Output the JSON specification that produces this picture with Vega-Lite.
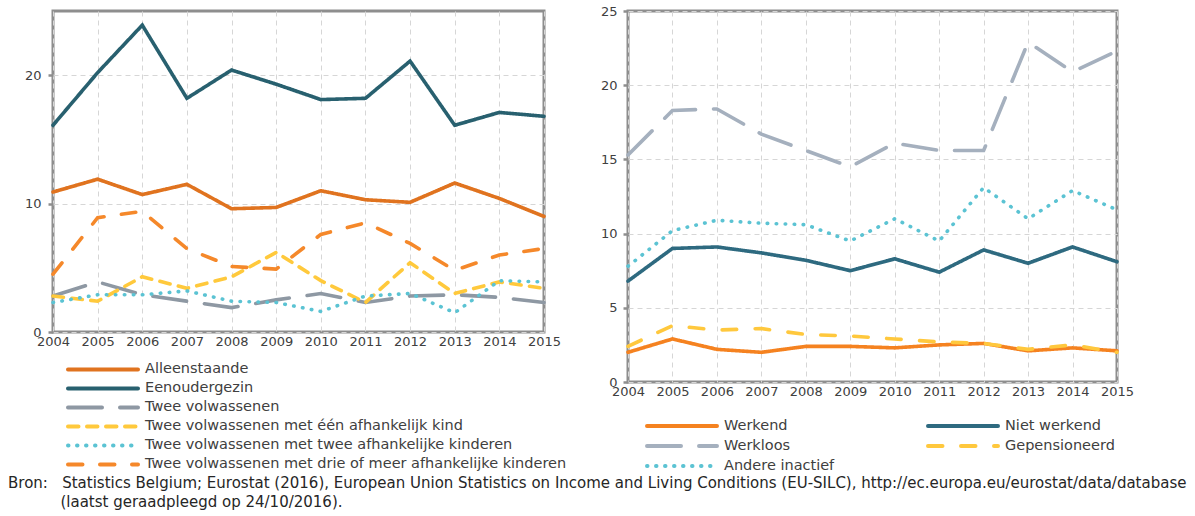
{
  "$schema": "https://vega.github.io/schema/vega-lite/v6.json",
  "background": "white",
  "padding": {"left": 8, "top": 3, "right": 0, "bottom": 0},
  "bounds": "flush",
  "spacing": 84,
  "datasets": {
    "links": [
      {"jaar": 2004, "reeks": "Alleenstaande", "waarde": 10.9},
      {"jaar": 2005, "reeks": "Alleenstaande", "waarde": 11.9},
      {"jaar": 2006, "reeks": "Alleenstaande", "waarde": 10.7},
      {"jaar": 2007, "reeks": "Alleenstaande", "waarde": 11.5},
      {"jaar": 2008, "reeks": "Alleenstaande", "waarde": 9.6},
      {"jaar": 2009, "reeks": "Alleenstaande", "waarde": 9.7},
      {"jaar": 2010, "reeks": "Alleenstaande", "waarde": 11.0},
      {"jaar": 2011, "reeks": "Alleenstaande", "waarde": 10.3},
      {"jaar": 2012, "reeks": "Alleenstaande", "waarde": 10.1},
      {"jaar": 2013, "reeks": "Alleenstaande", "waarde": 11.6},
      {"jaar": 2014, "reeks": "Alleenstaande", "waarde": 10.4},
      {"jaar": 2015, "reeks": "Alleenstaande", "waarde": 9.0},
      {"jaar": 2004, "reeks": "Eenoudergezin", "waarde": 16.1},
      {"jaar": 2005, "reeks": "Eenoudergezin", "waarde": 20.2},
      {"jaar": 2006, "reeks": "Eenoudergezin", "waarde": 23.9},
      {"jaar": 2007, "reeks": "Eenoudergezin", "waarde": 18.2},
      {"jaar": 2008, "reeks": "Eenoudergezin", "waarde": 20.4},
      {"jaar": 2009, "reeks": "Eenoudergezin", "waarde": 19.3},
      {"jaar": 2010, "reeks": "Eenoudergezin", "waarde": 18.1},
      {"jaar": 2011, "reeks": "Eenoudergezin", "waarde": 18.2},
      {"jaar": 2012, "reeks": "Eenoudergezin", "waarde": 21.1},
      {"jaar": 2013, "reeks": "Eenoudergezin", "waarde": 16.1},
      {"jaar": 2014, "reeks": "Eenoudergezin", "waarde": 17.1},
      {"jaar": 2015, "reeks": "Eenoudergezin", "waarde": 16.8},
      {"jaar": 2004, "reeks": "Twee volwassenen", "waarde": 2.8},
      {"jaar": 2005, "reeks": "Twee volwassenen", "waarde": 3.9},
      {"jaar": 2006, "reeks": "Twee volwassenen", "waarde": 2.9},
      {"jaar": 2007, "reeks": "Twee volwassenen", "waarde": 2.4},
      {"jaar": 2008, "reeks": "Twee volwassenen", "waarde": 1.9},
      {"jaar": 2009, "reeks": "Twee volwassenen", "waarde": 2.5},
      {"jaar": 2010, "reeks": "Twee volwassenen", "waarde": 3.0},
      {"jaar": 2011, "reeks": "Twee volwassenen", "waarde": 2.3},
      {"jaar": 2012, "reeks": "Twee volwassenen", "waarde": 2.8},
      {"jaar": 2013, "reeks": "Twee volwassenen", "waarde": 2.9},
      {"jaar": 2014, "reeks": "Twee volwassenen", "waarde": 2.7},
      {"jaar": 2015, "reeks": "Twee volwassenen", "waarde": 2.3},
      {"jaar": 2004, "reeks": "Twee volwassenen met één afhankelijk kind", "waarde": 2.8},
      {"jaar": 2005, "reeks": "Twee volwassenen met één afhankelijk kind", "waarde": 2.4},
      {"jaar": 2006, "reeks": "Twee volwassenen met één afhankelijk kind", "waarde": 4.3},
      {"jaar": 2007, "reeks": "Twee volwassenen met één afhankelijk kind", "waarde": 3.4},
      {"jaar": 2008, "reeks": "Twee volwassenen met één afhankelijk kind", "waarde": 4.3},
      {"jaar": 2009, "reeks": "Twee volwassenen met één afhankelijk kind", "waarde": 6.2},
      {"jaar": 2010, "reeks": "Twee volwassenen met één afhankelijk kind", "waarde": 4.0},
      {"jaar": 2011, "reeks": "Twee volwassenen met één afhankelijk kind", "waarde": 2.3},
      {"jaar": 2012, "reeks": "Twee volwassenen met één afhankelijk kind", "waarde": 5.4},
      {"jaar": 2013, "reeks": "Twee volwassenen met één afhankelijk kind", "waarde": 3.0},
      {"jaar": 2014, "reeks": "Twee volwassenen met één afhankelijk kind", "waarde": 3.9},
      {"jaar": 2015, "reeks": "Twee volwassenen met één afhankelijk kind", "waarde": 3.4},
      {"jaar": 2004, "reeks": "Twee volwassenen met twee afhankelijke kinderen", "waarde": 2.3},
      {"jaar": 2005, "reeks": "Twee volwassenen met twee afhankelijke kinderen", "waarde": 2.9},
      {"jaar": 2006, "reeks": "Twee volwassenen met twee afhankelijke kinderen", "waarde": 2.9},
      {"jaar": 2007, "reeks": "Twee volwassenen met twee afhankelijke kinderen", "waarde": 3.2},
      {"jaar": 2008, "reeks": "Twee volwassenen met twee afhankelijke kinderen", "waarde": 2.4},
      {"jaar": 2009, "reeks": "Twee volwassenen met twee afhankelijke kinderen", "waarde": 2.3},
      {"jaar": 2010, "reeks": "Twee volwassenen met twee afhankelijke kinderen", "waarde": 1.6},
      {"jaar": 2011, "reeks": "Twee volwassenen met twee afhankelijke kinderen", "waarde": 2.8},
      {"jaar": 2012, "reeks": "Twee volwassenen met twee afhankelijke kinderen", "waarde": 3.0},
      {"jaar": 2013, "reeks": "Twee volwassenen met twee afhankelijke kinderen", "waarde": 1.5},
      {"jaar": 2014, "reeks": "Twee volwassenen met twee afhankelijke kinderen", "waarde": 4.0},
      {"jaar": 2015, "reeks": "Twee volwassenen met twee afhankelijke kinderen", "waarde": 3.9},
      {"jaar": 2004, "reeks": "Twee volwassenen met drie of meer afhankelijke kinderen", "waarde": 4.5},
      {"jaar": 2005, "reeks": "Twee volwassenen met drie of meer afhankelijke kinderen", "waarde": 8.9},
      {"jaar": 2006, "reeks": "Twee volwassenen met drie of meer afhankelijke kinderen", "waarde": 9.4},
      {"jaar": 2007, "reeks": "Twee volwassenen met drie of meer afhankelijke kinderen", "waarde": 6.5},
      {"jaar": 2008, "reeks": "Twee volwassenen met drie of meer afhankelijke kinderen", "waarde": 5.1},
      {"jaar": 2009, "reeks": "Twee volwassenen met drie of meer afhankelijke kinderen", "waarde": 4.9},
      {"jaar": 2010, "reeks": "Twee volwassenen met drie of meer afhankelijke kinderen", "waarde": 7.6},
      {"jaar": 2011, "reeks": "Twee volwassenen met drie of meer afhankelijke kinderen", "waarde": 8.5},
      {"jaar": 2012, "reeks": "Twee volwassenen met drie of meer afhankelijke kinderen", "waarde": 6.9},
      {"jaar": 2013, "reeks": "Twee volwassenen met drie of meer afhankelijke kinderen", "waarde": 4.8},
      {"jaar": 2014, "reeks": "Twee volwassenen met drie of meer afhankelijke kinderen", "waarde": 6.0},
      {"jaar": 2015, "reeks": "Twee volwassenen met drie of meer afhankelijke kinderen", "waarde": 6.5}
    ],
    "rechts": [
      {"jaar": 2004, "reeks": "Werkend", "waarde": 2.0},
      {"jaar": 2005, "reeks": "Werkend", "waarde": 2.9},
      {"jaar": 2006, "reeks": "Werkend", "waarde": 2.2},
      {"jaar": 2007, "reeks": "Werkend", "waarde": 2.0},
      {"jaar": 2008, "reeks": "Werkend", "waarde": 2.4},
      {"jaar": 2009, "reeks": "Werkend", "waarde": 2.4},
      {"jaar": 2010, "reeks": "Werkend", "waarde": 2.3},
      {"jaar": 2011, "reeks": "Werkend", "waarde": 2.5},
      {"jaar": 2012, "reeks": "Werkend", "waarde": 2.6},
      {"jaar": 2013, "reeks": "Werkend", "waarde": 2.1},
      {"jaar": 2014, "reeks": "Werkend", "waarde": 2.3},
      {"jaar": 2015, "reeks": "Werkend", "waarde": 2.1},
      {"jaar": 2004, "reeks": "Niet werkend", "waarde": 6.8},
      {"jaar": 2005, "reeks": "Niet werkend", "waarde": 9.0},
      {"jaar": 2006, "reeks": "Niet werkend", "waarde": 9.1},
      {"jaar": 2007, "reeks": "Niet werkend", "waarde": 8.7},
      {"jaar": 2008, "reeks": "Niet werkend", "waarde": 8.2},
      {"jaar": 2009, "reeks": "Niet werkend", "waarde": 7.5},
      {"jaar": 2010, "reeks": "Niet werkend", "waarde": 8.3},
      {"jaar": 2011, "reeks": "Niet werkend", "waarde": 7.4},
      {"jaar": 2012, "reeks": "Niet werkend", "waarde": 8.9},
      {"jaar": 2013, "reeks": "Niet werkend", "waarde": 8.0},
      {"jaar": 2014, "reeks": "Niet werkend", "waarde": 9.1},
      {"jaar": 2015, "reeks": "Niet werkend", "waarde": 8.1},
      {"jaar": 2004, "reeks": "Werkloos", "waarde": 15.3},
      {"jaar": 2005, "reeks": "Werkloos", "waarde": 18.3},
      {"jaar": 2006, "reeks": "Werkloos", "waarde": 18.4},
      {"jaar": 2007, "reeks": "Werkloos", "waarde": 16.7},
      {"jaar": 2008, "reeks": "Werkloos", "waarde": 15.6},
      {"jaar": 2009, "reeks": "Werkloos", "waarde": 14.5},
      {"jaar": 2010, "reeks": "Werkloos", "waarde": 16.1},
      {"jaar": 2011, "reeks": "Werkloos", "waarde": 15.6},
      {"jaar": 2012, "reeks": "Werkloos", "waarde": 15.6},
      {"jaar": 2013, "reeks": "Werkloos", "waarde": 22.9},
      {"jaar": 2014, "reeks": "Werkloos", "waarde": 20.9},
      {"jaar": 2015, "reeks": "Werkloos", "waarde": 22.3},
      {"jaar": 2004, "reeks": "Gepensioneerd", "waarde": 2.4},
      {"jaar": 2005, "reeks": "Gepensioneerd", "waarde": 3.8},
      {"jaar": 2006, "reeks": "Gepensioneerd", "waarde": 3.5},
      {"jaar": 2007, "reeks": "Gepensioneerd", "waarde": 3.6},
      {"jaar": 2008, "reeks": "Gepensioneerd", "waarde": 3.2},
      {"jaar": 2009, "reeks": "Gepensioneerd", "waarde": 3.1},
      {"jaar": 2010, "reeks": "Gepensioneerd", "waarde": 2.9},
      {"jaar": 2011, "reeks": "Gepensioneerd", "waarde": 2.7},
      {"jaar": 2012, "reeks": "Gepensioneerd", "waarde": 2.6},
      {"jaar": 2013, "reeks": "Gepensioneerd", "waarde": 2.2},
      {"jaar": 2014, "reeks": "Gepensioneerd", "waarde": 2.5},
      {"jaar": 2015, "reeks": "Gepensioneerd", "waarde": 2.0},
      {"jaar": 2004, "reeks": "Andere inactief", "waarde": 7.8},
      {"jaar": 2005, "reeks": "Andere inactief", "waarde": 10.2},
      {"jaar": 2006, "reeks": "Andere inactief", "waarde": 10.9},
      {"jaar": 2007, "reeks": "Andere inactief", "waarde": 10.7},
      {"jaar": 2008, "reeks": "Andere inactief", "waarde": 10.6},
      {"jaar": 2009, "reeks": "Andere inactief", "waarde": 9.5},
      {"jaar": 2010, "reeks": "Andere inactief", "waarde": 11.0},
      {"jaar": 2011, "reeks": "Andere inactief", "waarde": 9.5},
      {"jaar": 2012, "reeks": "Andere inactief", "waarde": 13.1},
      {"jaar": 2013, "reeks": "Andere inactief", "waarde": 11.0},
      {"jaar": 2014, "reeks": "Andere inactief", "waarde": 12.9},
      {"jaar": 2015, "reeks": "Andere inactief", "waarde": 11.6}
    ]
  },
  "title": {
    "text": [
      "Bron:\u00a0\u00a0\u00a0Statistics Belgium; Eurostat (2016), European Union Statistics on Income and Living Conditions (EU-SILC), http://ec.europa.eu/eurostat/data/database",
      "\u200b\u00a0\u00a0\u00a0\u00a0\u00a0\u00a0\u00a0\u00a0\u00a0\u00a0\u00a0(laatst geraadpleegd op 24/10/2016)."
    ],
    "orient": "bottom",
    "anchor": "start",
    "frame": "group",
    "dx": -45,
    "offset": -2,
    "font": "DejaVu Sans",
    "fontSize": 15,
    "fontWeight": "normal",
    "color": "#262626",
    "lineHeight": 19
  },
  "hconcat": [
    {
      "width": 491,
      "height": 321,
      "data": {"name": "links"},
      "mark": {"type": "line", "strokeWidth": 3.6, "strokeCap": "round"},
      "encoding": {
        "x": {"field": "jaar", "type": "quantitative", "scale": {"domain": [2004, 2015], "nice": false, "zero": false},
              "axis": {"values": [2004, 2005, 2006, 2007, 2008, 2009, 2010, 2011, 2012, 2013, 2014, 2015], "format": "d", "ticks": false, "labelPadding": 3, "labelFlush": false}},
        "y": {"field": "waarde", "type": "quantitative", "scale": {"domain": [0, 25], "nice": false},
              "axis": {"values": [0, 10, 20], "tickSize": 5, "labelPadding": 7}},
        "color": {"field": "reeks", "type": "nominal",
                  "scale": {"domain": ["Alleenstaande", "Eenoudergezin", "Twee volwassenen", "Twee volwassenen met één afhankelijk kind", "Twee volwassenen met twee afhankelijke kinderen", "Twee volwassenen met drie of meer afhankelijke kinderen"],
                            "range": ["#E0731F", "#28606F", "#8E98A3", "#FFC93C", "#5BC3D3", "#F5882A"]},
                  "legend": {"orient": "none", "legendX": 13, "legendY": 349, "direction": "vertical", "columns": 1, "title": null, "clipHeight": 18.9,
                             "encode": {"symbols": {"update": {"strokeCap": {"value": "round"}}}}}},
        "strokeDash": {"field": "reeks", "type": "nominal",
                  "scale": {"domain": ["Alleenstaande", "Eenoudergezin", "Twee volwassenen", "Twee volwassenen met één afhankelijk kind", "Twee volwassenen met twee afhankelijke kinderen", "Twee volwassenen met drie of meer afhankelijke kinderen"],
                            "range": [[1, 0], [1, 0], [34, 18], [10.5, 8.5], [0.5, 8.5], [14.5, 17.5]]},
                  "legend": {"orient": "none", "legendX": 13, "legendY": 349, "direction": "vertical", "columns": 1, "title": null, "clipHeight": 18.9,
                             "encode": {"symbols": {"update": {"strokeCap": {"value": "round"}}}}}}
      }
    },
    {
      "width": 489,
      "height": 371,
      "data": {"name": "rechts"},
      "mark": {"type": "line", "strokeWidth": 3.6, "strokeCap": "round"},
      "encoding": {
        "x": {"field": "jaar", "type": "quantitative", "scale": {"domain": [2004, 2015], "nice": false, "zero": false},
              "axis": {"values": [2004, 2005, 2006, 2007, 2008, 2009, 2010, 2011, 2012, 2013, 2014, 2015], "format": "d", "ticks": false, "labelPadding": 3, "labelFlush": false}},
        "y": {"field": "waarde", "type": "quantitative", "scale": {"domain": [0, 25], "nice": false},
              "axis": {"values": [0, 5, 10, 15, 20, 25], "tickSize": 5, "labelPadding": 6}},
        "color": {"field": "reeks", "type": "nominal",
                  "scale": {"domain": ["Werkend", "Werkloos", "Andere inactief", "Niet werkend", "Gepensioneerd"],
                            "range": ["#F58220", "#A5B0BE", "#5BC3D3", "#2E6A80", "#FFC83D"]},
                  "legend": {"orient": "none", "legendX": 17, "legendY": 405, "direction": "vertical", "columns": 2, "columnPadding": 91, "title": null, "clipHeight": 20,
                             "encode": {"symbols": {"update": {"strokeCap": {"value": "round"}}}}}},
        "strokeDash": {"field": "reeks", "type": "nominal",
                  "scale": {"domain": ["Werkend", "Werkloos", "Andere inactief", "Niet werkend", "Gepensioneerd"],
                            "range": [[1, 0], [34, 18], [0.5, 8.5], [1, 0], [14.5, 18.5]]},
                  "legend": {"orient": "none", "legendX": 17, "legendY": 405, "direction": "vertical", "columns": 2, "columnPadding": 91, "title": null, "clipHeight": 20,
                             "encode": {"symbols": {"update": {"strokeCap": {"value": "round"}}}}}}
      }
    }
  ],
  "resolve": {"scale": {"color": "independent", "strokeDash": "independent", "y": "independent", "x": "independent"}},
  "config": {
    "view": {"stroke": "#8E8E8E", "strokeWidth": 3},
    "axis": {
      "title": null,
      "domain": false,
      "labelFont": "DejaVu Sans",
      "labelFontSize": 13,
      "labelColor": "#404040",
      "grid": true,
      "gridColor": "#D6D6D6",
      "gridDash": [5, 4],
      "gridWidth": 1,
      "tickColor": "#8E8E8E",
      "tickWidth": 2.5
    },
    "legend": {
      "labelFont": "DejaVu Sans",
      "labelFontSize": 14.5,
      "labelColor": "#404040",
      "labelLimit": 500,
      "labelOffset": 5,
      "symbolType": "stroke",
      "symbolSize": 4900,
      "symbolStrokeWidth": 4,
      "rowPadding": 0,
      "padding": 0
    }
  }
}
